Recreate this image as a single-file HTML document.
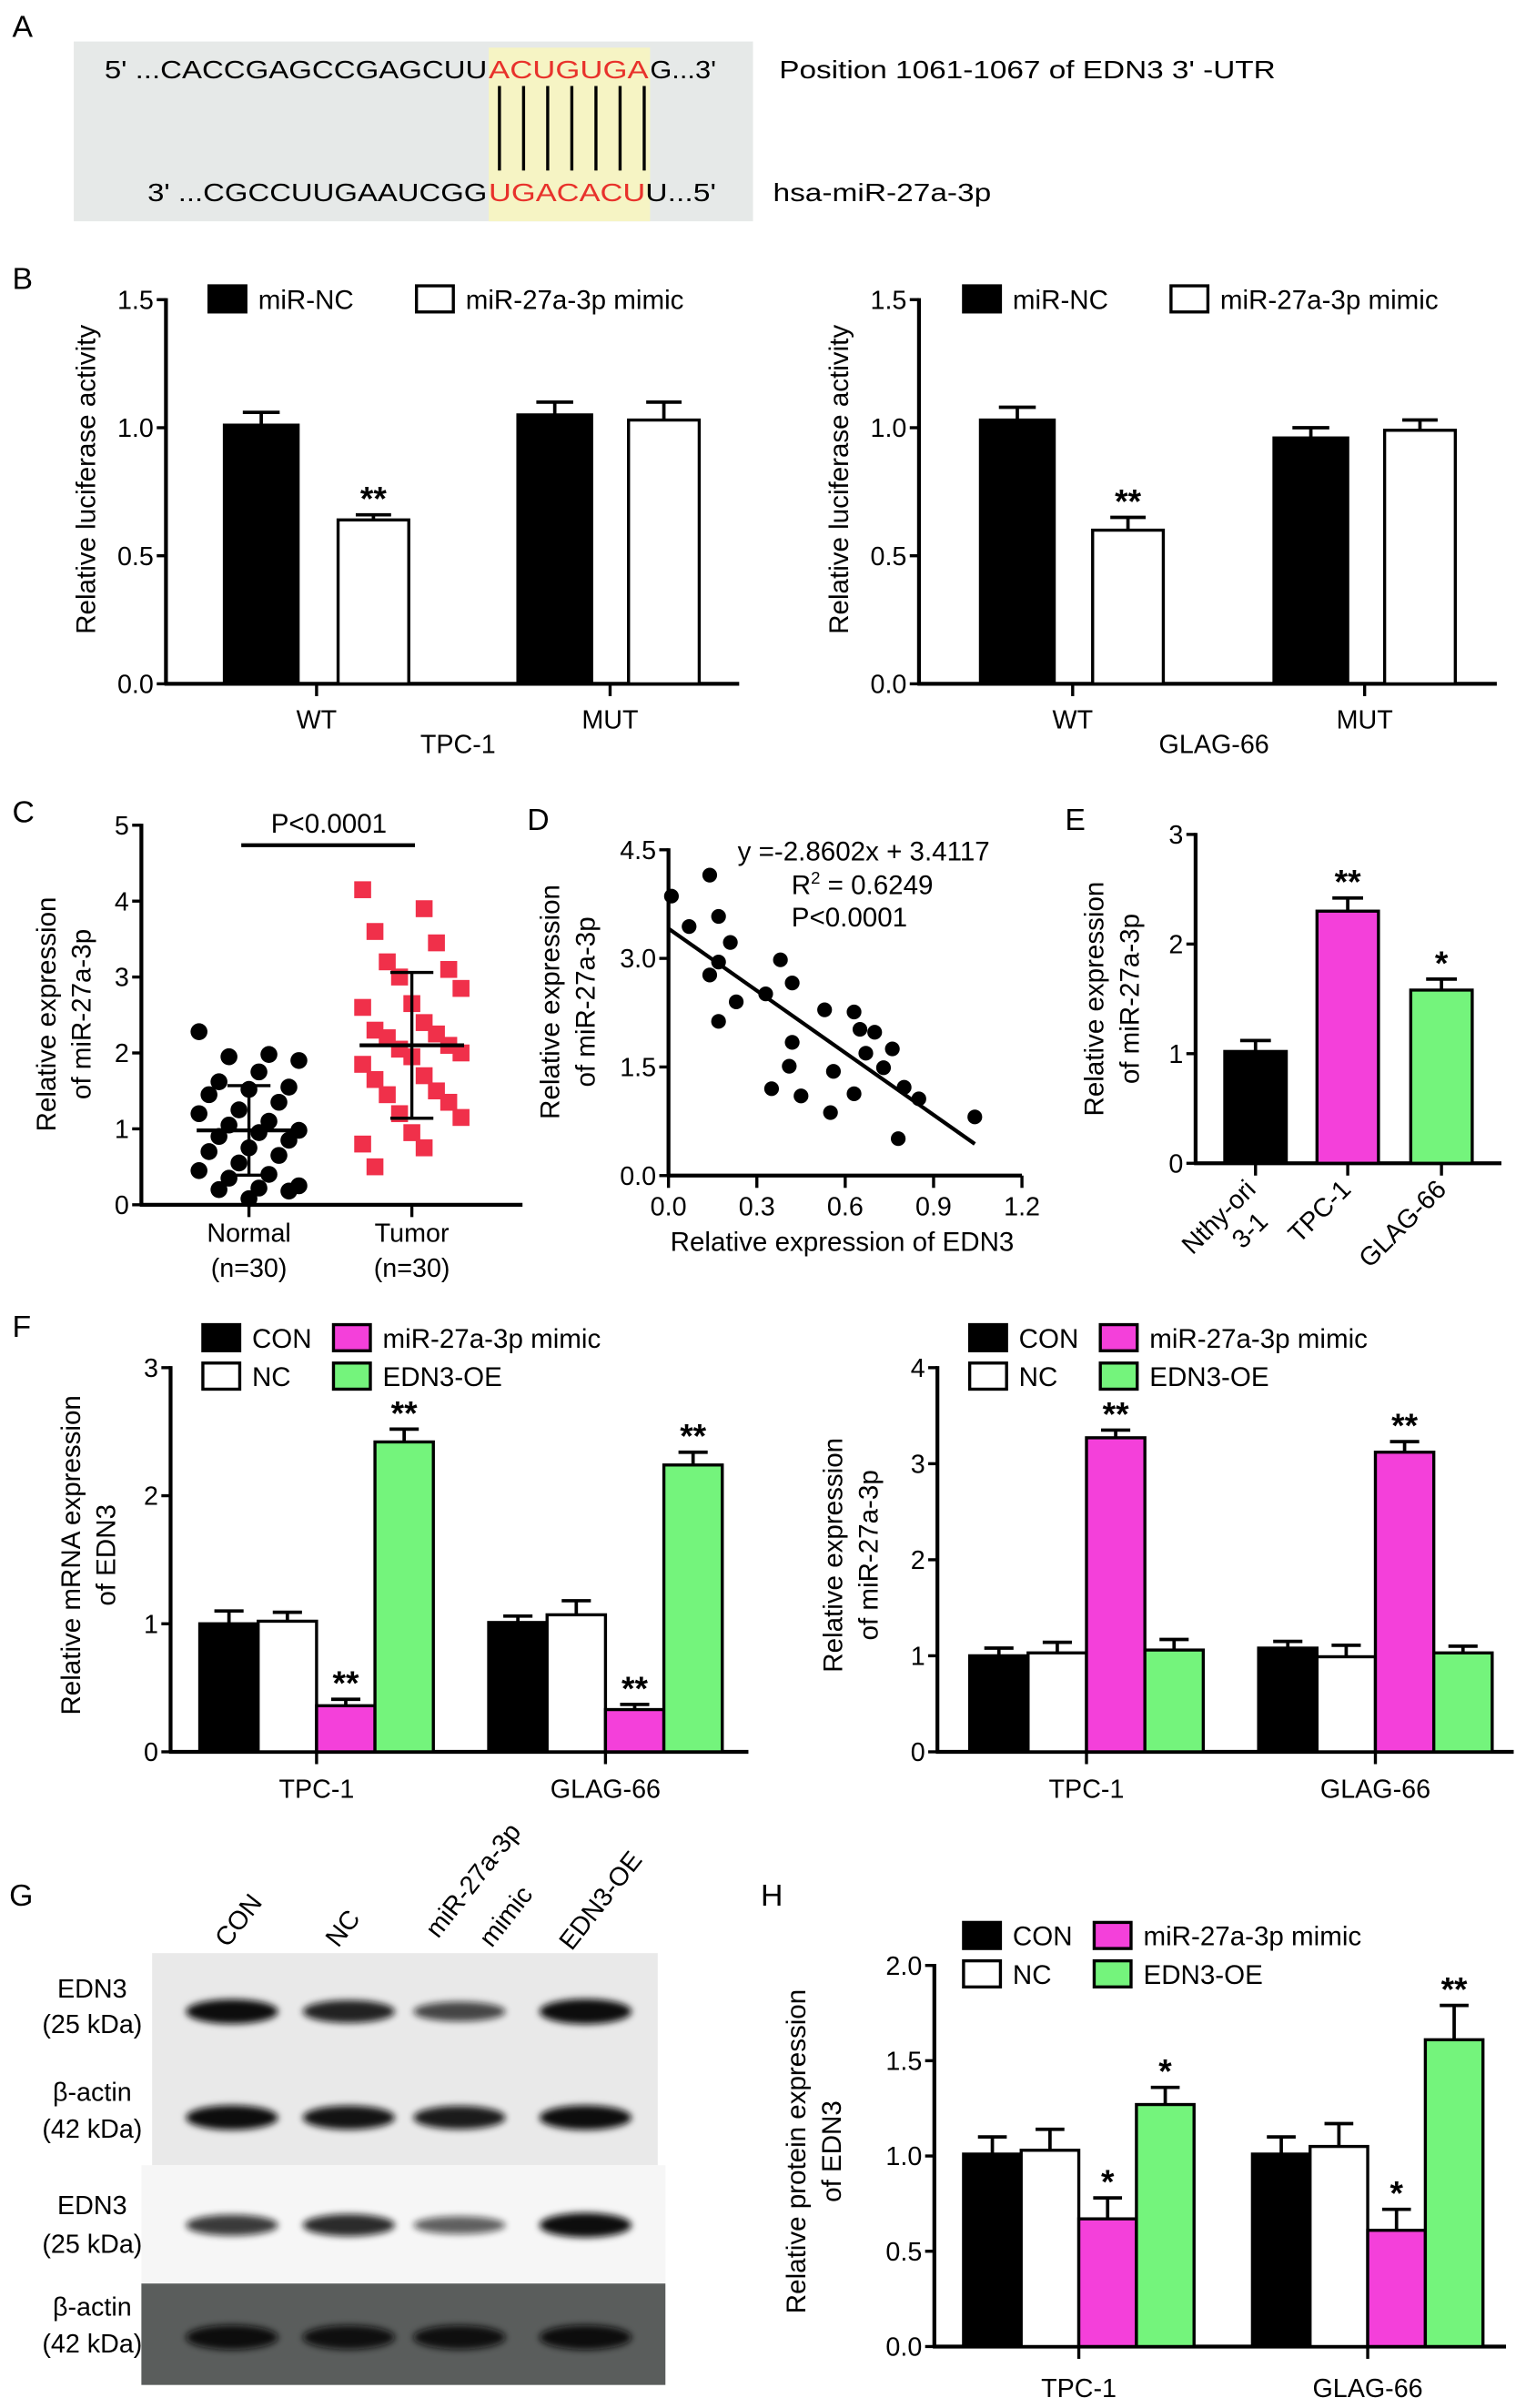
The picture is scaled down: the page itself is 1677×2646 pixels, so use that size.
<!DOCTYPE html>
<html><head><meta charset="utf-8">
<style>
html,body{margin:0;padding:0;background:#fff;}
svg{display:block;font-family:"Liberation Sans",Arial,sans-serif;}
</style></head>
<body>
<svg id="fig" xmlns="http://www.w3.org/2000/svg" width="1677" height="2646" viewBox="0 0 993 1567" preserveAspectRatio="none">
  <rect x="0" y="0" width="993" height="1567" fill="#fff"/>
  <g font-size="20" fill="#000">
    <text x="8" y="24">A</text>
    <text x="8" y="188">B</text>
    <text x="8" y="535">C</text>
    <text x="343" y="540">D</text>
    <text x="693" y="540">E</text>
    <text x="8" y="870">F</text>
    <text x="6" y="1240">G</text>
    <text x="495" y="1240">H</text>
  </g>
  <g>
    <rect x="48" y="27" width="442" height="117" fill="#e6e9e8"/>
    <rect x="318" y="31" width="105" height="113" fill="#f6f4c4"/>
    <g font-size="16.5">
      <text x="68" y="51" textLength="249" lengthAdjust="spacingAndGlyphs">5' ...CACCGAGCCGAGCUU</text>
      <text x="318" y="51" textLength="104" lengthAdjust="spacingAndGlyphs" fill="#e8322b">ACUGUGA</text>
      <text x="423" y="51" textLength="43" lengthAdjust="spacingAndGlyphs">G...3'</text>
      <text x="96" y="131" textLength="221" lengthAdjust="spacingAndGlyphs">3' ...CGCCUUGAAUCGG</text>
      <text x="318" y="131" textLength="102" lengthAdjust="spacingAndGlyphs" fill="#e8322b">UGACACU</text>
      <text x="420" y="131" textLength="46" lengthAdjust="spacingAndGlyphs">U...5'</text>
      <text x="507" y="51" textLength="323" lengthAdjust="spacingAndGlyphs">Position 1061-1067 of EDN3 3' -UTR</text>
      <text x="503" y="131" textLength="142" lengthAdjust="spacingAndGlyphs">hsa-miR-27a-3p</text>
    </g>
    <g id="pairlines" stroke="#000" stroke-width="2"></g>
  </g>
  <g id="charts"></g>
  <g id="blot">
    <defs>
      <filter id="blur" x="-20%" y="-50%" width="140%" height="200%"><feGaussianBlur stdDeviation="2.2"/></filter>
    </defs>
    <rect x="99" y="1271" width="329" height="138" fill="#e9e9e9"/>
    <rect x="92" y="1409" width="341" height="77" fill="#f6f6f6"/>
    <rect x="92" y="1486" width="341" height="66" fill="#5a5d5c"/>
  </g>
</svg>
<script>
const NS = "http://www.w3.org/2000/svg";
const svg = document.getElementById("fig");
const charts = document.getElementById("charts");
function mk(tag, attrs, parent) {
  const e = document.createElementNS(NS, tag);
  for (const k in attrs) e.setAttribute(k, attrs[k]);
  (parent || charts).appendChild(e);
  return e;
}
function txt(s, attrs, parent) { const t = mk("text", attrs, parent); t.textContent = s; return t; }

const pairs = document.getElementById("pairlines");
for (let i = 0; i < 7; i++) {
  const l = mk("line", {x1: 325 + i * 15.7, x2: 325 + i * 15.7, y1: 56, y2: 111}, pairs);
  
  
}

// ===== DATA =====
const B_categories = ["WT", "MUT"];
const B1_ncVals = [1.01, 1.05];
const B1_ncErr = [0.05, 0.05];
const B1_mimicVals = [0.64, 1.03];
const B1_mimicErr = [0.02, 0.07];
const B1_stars = ["", "**", "", ""];
const B2_ncVals = [1.03, 0.96];
const B2_ncErr = [0.05, 0.04];
const B2_mimicVals = [0.60, 0.99];
const B2_mimicErr = [0.05, 0.04];
const B2_stars = ["", "**", "", ""];
const B_ticks = [0, 0.5, 1.0, 1.5];
const B_tickLabels = ["0.0", "0.5", "1.0", "1.5"];

const C_normal = [2.28, 1.98, 1.95, 1.9, 1.75, 1.62, 1.55, 1.52, 1.45, 1.35, 1.25, 1.2, 1.1, 1.05, 0.98, 0.95, 0.9, 0.85, 0.75, 0.7, 0.65, 0.55, 0.45, 0.4, 0.35, 0.25, 0.22, 0.2, 0.18, 0.08];
const C_tumor = [4.15, 3.9, 3.6, 3.45, 3.2, 3.1, 3.0, 2.85, 2.65, 2.6, 2.4, 2.3, 2.25, 2.2, 2.1, 2.05, 2.0, 1.95, 1.85, 1.7, 1.65, 1.5, 1.45, 1.35, 1.2, 1.15, 0.95, 0.8, 0.75, 0.5];
const C_means = [0.98, 2.1];
const C_sd = [0.59, 0.96];
const C_ticks = [0, 1, 2, 3, 4, 5];

const D_x = [0.01, 0.07, 0.14, 0.17, 0.21, 0.17, 0.14, 0.23, 0.17, 0.33, 0.38, 0.42, 0.42, 0.41, 0.35, 0.45, 0.53, 0.56, 0.55, 0.63, 0.65, 0.70, 0.67, 0.76, 0.73, 0.63, 0.80, 0.85, 0.78, 1.04];
const D_y = [3.86, 3.44, 4.15, 3.58, 3.22, 2.95, 2.77, 2.40, 2.13, 2.51, 2.98, 2.66, 1.84, 1.51, 1.20, 1.10, 2.29, 1.44, 0.87, 2.26, 2.02, 1.98, 1.69, 1.75, 1.49, 1.13, 1.22, 1.06, 0.51, 0.81];
const D_slope = -2.8602;
const D_intercept = 3.4117;
const D_xTicks = [0, 0.3, 0.6, 0.9, 1.2];
const D_xTickLabels = ["0.0", "0.3", "0.6", "0.9", "1.2"];
const D_yTicks = [0, 1.5, 3.0, 4.5];
const D_yTickLabels = ["0.0", "1.5", "3.0", "4.5"];

const E_categories = ["Nthy-ori 3-1", "TPC-1", "GLAG-66"];
const E_vals = [1.02, 2.3, 1.58];
const E_err = [0.1, 0.12, 0.1];
const E_stars = ["", "**", "*"];
const E_ticks = [0, 1, 2, 3];

const F_groups = ["TPC-1", "GLAG-66"];
const F1_vals = [[1.0, 1.02, 0.36, 2.42], [1.01, 1.07, 0.33, 2.24]];
const F1_err = [[0.1, 0.07, 0.05, 0.1], [0.05, 0.11, 0.04, 0.1]];
const F1_stars = [["", "", "**", "**"], ["", "", "**", "**"]];
const F1_ticks = [0, 1, 2, 3];
const F2_vals = [[1.0, 1.03, 3.27, 1.06], [1.08, 0.99, 3.12, 1.03]];
const F2_err = [[0.08, 0.11, 0.08, 0.11], [0.07, 0.12, 0.11, 0.07]];
const F2_stars = [["", "", "**", ""], ["", "", "**", ""]];
const F2_ticks = [0, 1, 2, 3, 4];

const H_vals = [[1.01, 1.03, 0.67, 1.27], [1.01, 1.05, 0.61, 1.61]];
const H_err = [[0.09, 0.11, 0.11, 0.09], [0.09, 0.12, 0.11, 0.18]];
const H_stars = [["", "", "*", "*"], ["", "", "*", "**"]];
const H_ticks = [0, 0.5, 1.0, 1.5, 2.0];
const H_tickLabels = ["0.0", "0.5", "1.0", "1.5", "2.0"];

const G_lanes = ["CON", "NC", "miR-27a-3p mimic", "EDN3-OE"];
const G_edn3Top = [1.0, 0.85, 0.6, 1.05];
const G_actinTop = [1.0, 0.95, 0.9, 1.0];
const G_edn3Bottom = [0.7, 0.8, 0.45, 1.0];
const G_actinBottom = [1.0, 0.95, 0.95, 1.0];

const COLORS = ["#000", "#fff", "#f440da", "#74f47c"];
const SERIES = ["CON", "NC", "miR-27a-3p mimic", "EDN3-OE"];

function yAxis(ax, ticks, labels, fs) {
  const a = mk("line", {x1: ax.x, x2: ax.x, y1: ax.yTop - 1, y2: ax.y0, stroke: "#000", "stroke-width": 2.5});
  
  
  const b = mk("line", {x1: ax.x - 1, x2: ax.xEnd, y1: ax.y0, y2: ax.y0, stroke: "#000", "stroke-width": 2.5});
  
  
  ticks.forEach((v, i) => {
    const y = ax.sy(v);
    const t = mk("line", {x1: ax.x - 6, x2: ax.x, y1: y, y2: y, stroke: "#000", "stroke-width": 2});
    
    
    const l = txt(labels ? labels[i] : String(v), {x: ax.x - 8, y: y + 6, "font-size": fs || 17, "text-anchor": "end"});
    
    
  });
}
function makeAxis(x, xEnd, yTop, y0, max) {
  return {x, xEnd, yTop, y0, max, sy: v => y0 - v / max * (y0 - yTop)};
}
function bar(ax, x1, w, v, e, color, star, name) {
  const y = ax.sy(v);
  const r = mk("rect", {x: x1, y: y, width: w, height: ax.y0 - y, fill: color, stroke: "#000", "stroke-width": 2});
  
  
  const ye = ax.sy(v + e);
  const cx = x1 + w / 2;
  const eb = mk("path", {d: `M${cx},${y} V${ye} M${cx - w / 4},${ye} H${cx + w / 4}`, stroke: "#000", "stroke-width": 2.2, fill: "none"});
  
  
  if (star) {
    const s = txt(star, {x: cx, y: ye - 3, "font-size": 22, "text-anchor": "middle", "font-weight": "bold"});
    
    
  }
}
function xTick(ax, x, label, ly) {
  const t = mk("line", {x1: x, x2: x, y1: ax.y0, y2: ax.y0 + 8, stroke: "#000", "stroke-width": 2});
  
  
  if (label) {
    const l = txt(label, {x: x, y: ly, "font-size": 17, "text-anchor": "middle"});
    
    
  }
}
function yTitle(lines, x, cy) {
  lines.forEach((s, i) => {
    const t = txt(s, {x: 0, y: 0, "font-size": 17.5, "text-anchor": "middle", transform: `translate(${x + i * 23},${cy}) rotate(-90)`});
    
    
  });
}
function legendBox(x, y, color, label) {
  const r = mk("rect", {x: x, y: y - 14, width: 24, height: 17, fill: color, stroke: "#000", "stroke-width": 2});
  
  
  const t = txt(label, {x: x + 32, y: y + 1, "font-size": 17.5});
  
  
}

function panelB(axX, axEnd, barXs, tickXs, nc, ncE, mi, miE, stars, cell, cellX, legX, titleX) {
  const ax = makeAxis(axX, axEnd, 195, 445, 1.5);
  yAxis(ax, B_ticks, B_tickLabels);
  B_categories.forEach((c, i) => {
    bar(ax, barXs[i * 2], 48, nc[i], ncE[i], "#000", stars[i * 2], "bar-mir-nc");
    bar(ax, barXs[i * 2 + 1], 46, mi[i], miE[i], "#fff", stars[i * 2 + 1], "bar-mir-mimic");
    xTick(ax, tickXs[i], c, 474);
  });
  const cl = txt(cell, {x: cellX, y: 490, "font-size": 17, "text-anchor": "middle"});
  
  
  legendBox(legX, 200, "#000", "miR-NC");
  legendBox(legX + 135, 200, "#fff", "miR-27a-3p mimic");
  yTitle(["Relative luciferase activity"], titleX, 312);
}
panelB(108, 481, [146, 220, 337, 409], [206, 397], B1_ncVals, B1_ncErr, B1_mimicVals, B1_mimicErr, B1_stars, "TPC-1", 298, 136, 62);
panelB(598, 974, [638, 711, 829, 901], [698, 888], B2_ncVals, B2_ncErr, B2_mimicVals, B2_mimicErr, B2_stars, "GLAG-66", 790, 627, 552);

(function () {
  const ax = makeAxis(92, 340, 537, 784, 5);
  yAxis(ax, C_ticks);
  const cx = [162, 268];
  xTick(ax, cx[0], "Normal", 808);
  xTick(ax, cx[1], "Tumor", 808);
  ["(n=30)", "(n=30)"].forEach((s, i) => {
    const t = txt(s, {x: cx[i], y: 831, "font-size": 17, "text-anchor": "middle"});
    
    
  });
  C_normal.forEach((v, i) => {
    const dx = (((i * 7) % 11) - 5) * 6.5;
    const c = mk("circle", {cx: cx[0] + dx, cy: ax.sy(v), r: 5.5, fill: "#000"});
    
    
  });
  C_tumor.forEach((v, i) => {
    const dx = (((i * 5) % 9) - 4) * 8;
    const r = mk("rect", {x: cx[1] + dx - 5.5, y: ax.sy(v) - 5.5, width: 11, height: 11, fill: "#f0304a"});
    
    
  });
  C_means.forEach((m, i) => {
    const ml = mk("line", {x1: cx[i] - 34, x2: cx[i] + 34, y1: ax.sy(m), y2: ax.sy(m), stroke: "#000", "stroke-width": 2.5});
    
    
    const hi = ax.sy(m + C_sd[i]), lo = ax.sy(m - C_sd[i]);
    const sd = mk("path", {d: `M${cx[i]},${hi} V${lo} M${cx[i] - 14},${hi} H${cx[i] + 14} M${cx[i] - 14},${lo} H${cx[i] + 14}`, stroke: "#000", "stroke-width": 2, fill: "none"});
    
    
  });
  const pl = mk("line", {x1: 157, x2: 270, y1: 550, y2: 550, stroke: "#000", "stroke-width": 2.5});
  
  
  const pt = txt("P<0.0001", {x: 214, y: 542, "font-size": 17.5, "text-anchor": "middle"});
  
  
  yTitle(["Relative expression", "of miR-27a-3p"], 36, 660);
})();

(function () {
  const ax = makeAxis(435, 665, 553, 765, 4.5);
  yAxis(ax, D_yTicks, D_yTickLabels);
  const sx = v => 435 + v / 1.2 * (665 - 435);
  D_xTicks.forEach((v, i) => xTick(ax, sx(v), D_xTickLabels[i], 791));
  D_x.forEach((xv, i) => {
    const c = mk("circle", {cx: sx(xv), cy: ax.sy(D_y[i]), r: 4.8, fill: "#000"});
    
    
  });
  const x0 = 0, x1 = Math.max(...D_x);
  const rl = mk("line", {x1: sx(x0), y1: ax.sy(D_intercept + D_slope * x0), x2: sx(x1), y2: ax.sy(D_intercept + D_slope * x1), stroke: "#000", "stroke-width": 2.5});
  
  
  const eq = txt("y =-2.8602x + 3.4117", {x: 480, y: 560, "font-size": 17.5});
  
  
  const r2 = txt("", {x: 515, y: 582, "font-size": 17.5});
  r2.innerHTML = 'R<tspan font-size="11" dy="-7">2</tspan><tspan dy="7"> = 0.6249</tspan>';
  
  
  const pv = txt("P<0.0001", {x: 515, y: 603, "font-size": 17.5});
  
  
  const xt = txt("Relative expression of EDN3", {x: 548, y: 814, "font-size": 17.5, "text-anchor": "middle"});
  
  
  yTitle(["Relative expression", "of miR-27a-3p"], 364, 652);
})();

(function () {
  const ax = makeAxis(778, 977, 543, 757, 3);
  yAxis(ax, E_ticks);
  const xs = [797, 857, 918];
  const cols = ["#000", "#f440da", "#74f47c"];
  E_vals.forEach((v, i) => {
    bar(ax, xs[i], 40, v, E_err[i], cols[i], E_stars[i], "bar-" + E_categories[i].toLowerCase().replace(/[^a-z0-9]+/g, "-"));
    xTick(ax, xs[i] + 20, "", 0);
  });
  const labs = [["Nthy-ori", 818, 775], ["3-1", 826, 796], ["TPC-1", 880, 775], ["GLAG-66", 942, 775]];
  labs.forEach(l => {
    const t = txt(l[0], {x: 0, y: 0, "font-size": 17, "text-anchor": "end", transform: `translate(${l[1]},${l[2]}) rotate(-45)`});
    
    
  });
  yTitle(["Relative expression", "of miR-27a-3p"], 718, 650);
})();

function grouped(ax, ticks, labels, vals, errs, stars, starts, bw, labelY) {
  yAxis(ax, ticks, labels);
  F_groups.forEach((g, gi) => {
    vals[gi].forEach((v, si) => {
      bar(ax, starts[gi] + si * bw, bw, v, errs[gi][si], COLORS[si], stars[gi][si], "bar-" + SERIES[si].toLowerCase().replace(/[^a-z0-9]+/g, "-"));
    });
    xTick(ax, starts[gi] + bw * 2, g, labelY);
  });
}
function legend4(x, y) {
  legendBox(x, y, COLORS[0], SERIES[0]);
  legendBox(x + 85, y, COLORS[2], SERIES[2]);
  legendBox(x, y + 25, COLORS[1], SERIES[1]);
  legendBox(x + 85, y + 25, COLORS[3], SERIES[3]);
}
grouped(makeAxis(111, 487, 890, 1140, 3), F1_ticks, null, F1_vals, F1_err, F1_stars, [130, 318], 38, 1170);
legend4(132, 876);
yTitle(["Relative mRNA expression", "of EDN3"], 52, 1012);
grouped(makeAxis(610, 985, 890, 1140, 4), F2_ticks, null, F2_vals, F2_err, F2_stars, [631, 819], 38, 1170);
legend4(631, 876);
yTitle(["Relative expression", "of miR-27a-3p"], 548, 1012);
grouped(makeAxis(608, 980, 1279, 1527, 2), H_ticks, H_tickLabels, H_vals, H_err, H_stars, [627, 815], 37.5, 1560);
legend4(627, 1265);
yTitle(["Relative protein expression", "of EDN3"], 524, 1400);

(function () {
  const g = document.getElementById("blot");
  const laneX = [151, 227, 299, 381];
  function bands(arr, y, name) {
    arr.forEach((v, i) => {
      const e = mk("ellipse", {cx: laneX[i], cy: y, rx: 30, ry: 4 + 4 * v, fill: "#111", opacity: 0.35 + 0.65 * v, filter: "url(#blur)"}, g);
      
      
    });
  }
  bands(G_edn3Top, 1309, "edn3-band");
  bands(G_actinTop, 1378, "actin-band");
  bands(G_edn3Bottom, 1448, "edn3-band");
  bands(G_actinBottom, 1521, "actin-band");
  const rows = [["EDN3", 1300], ["(25 kDa)", 1323], ["β-actin", 1367], ["(42 kDa)", 1391], ["EDN3", 1441], ["(25 kDa)", 1466], ["β-actin", 1507], ["(42 kDa)", 1531]];
  rows.forEach(r => {
    const t = txt(r[0], {x: 60, y: r[1], "font-size": 17, "text-anchor": "middle"}, g);
    
    
  });
  const lanes = [["CON", 148, 1268], ["NC", 220, 1268], ["miR-27a-3p", 285, 1262], ["mimic", 320, 1268], ["EDN3-OE", 372, 1270]];
  lanes.forEach(l => {
    const t = txt(l[0], {x: 0, y: 0, "font-size": 17, transform: `translate(${l[1]},${l[2]}) rotate(-52)`}, g);
    
    
  });
})();
</script>
</body></html>
